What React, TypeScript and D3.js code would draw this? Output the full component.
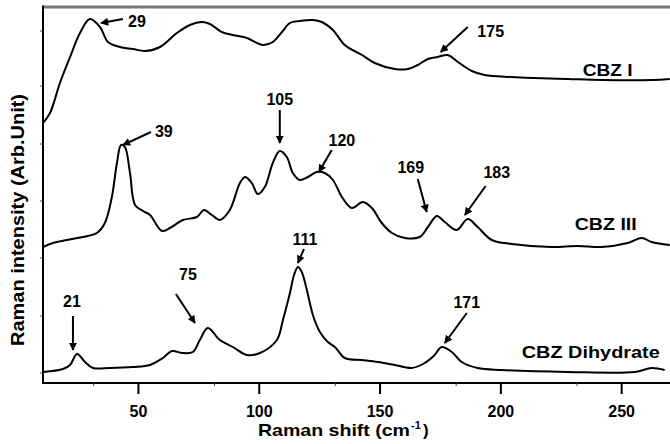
import React from "react";
import * as d3 from "d3";

// Raman shift (cm-1) and intensity (arb. units, offset stacked)
const cbz1X = [10.5,13.4,17.5,21.7,25.8,29.9,34.1,37.4,42.3,47.7,52.7,58.9,65.9,71.3,76.3,79.6,84.5,89.1,94.9,101.5,105.6,109.4,112.7,116.8,122.2,125.9,130.5,135.4,142.5,147.8,156.1,161.5,165.6,169.8,173.9,178.0,182.2,188.0,193.3,204.5,214.0,227.7,241.7,262.4,269.9];
const cbz1Y = [260,270,300,326,350,364,356,341,336,334,332,336,350,358,361,359,351,348,345,338,341,351,360,362,363,361,353,338,328,320,314,314,318,324,326,328,321,312,308,306,305,304,303,303,304];

const cbz3X = [10.5,14.6,20.4,27.0,32.8,36.1,39.0,41.1,42.8,44.4,46.5,48.6,51.9,54.8,59.7,63.0,68.4,74.2,77.1,80.4,83.7,87.8,92.0,94.1,96.9,99.4,102.3,105.6,108.5,111.4,113.9,116.8,120.1,123.8,127.1,130.5,134.2,138.3,142.9,146.6,150.7,154.9,160.2,166.4,169.8,173.5,176.8,181.7,186.3,190.4,196.2,204.5,221.0,231.8,241.7,252.5,258.3,262.4,269.9];
const cbz3Y = [136,140,143,146,150,160,186,220,238,236,210,178,172,168,152,155,163,166,173,168,163,173,200,206,200,189,196,220,232,226,210,203,206,211,210,203,186,175,181,175,160,150,145,146,156,167,161,153,164,156,143,139,136,137,136,140,145,141,138];

const dihX = [10.5,18.8,21.7,24.6,27.9,31.2,38.2,47.7,54.8,60.1,63.9,68.0,72.5,75.4,78.7,83.7,89.1,94.9,100.3,107.3,109.8,112.7,114.4,116.0,117.6,119.7,122.2,125.1,128.4,131.3,135.4,142.5,149.1,156.1,163.1,168.5,172.6,175.5,179.7,183.8,190.4,200.4,227.7,255.4,262.4,267.8];
const dihY = [11,14,18,29,21,15,15,16,18,25,32,30,31,43,55,43,36,28,30,43,63,90,108,116,111,93,68,51,41,36,25,23,21,18,15,20,28,36,31,21,15,13,11,11,15,13];

const seriesNames = ["CBZ I", "CBZ III", "CBZ Dihydrate"];
const seriesLabelX = [244.2, 243.4, 237.2];
const seriesLabelY = [313, 159, 31];
const seriesLabelLen = [50, 62, 138];

const xMajorTicks = [50, 100, 150, 200, 250];
const xMinorTicks = [31.5, 81.5, 131.5, 181.5, 231.5];
const yTicks = [10, 67, 125, 182, 239, 297, 352];

// peak annotations: label, label position, arrow from -> to (data coords)
const peakLabels = ["29", "175", "39", "105", "120", "169", "183", "111", "75", "21", "171"];
const peakTextX = [49.4, 195.8, 60.5, 108.5, 134.2, 162.7, 198.3, 118.9, 70.5, 22.5, 185.9];
const peakTextY = [362, 352, 252, 284, 243, 216, 211, 144, 109, 82, 81];
const arrowX1 = [43.6, 186.3, 55.2, 108.5, 130.0, 165.6, 193.7, 118.5, 65.5, 22.9, 185.9];
const arrowY1 = [364, 356, 251, 273, 233, 204, 197, 134, 89, 67, 70];
const arrowX2 = [34.5, 175.1, 43.6, 108.5, 124.7, 169.3, 185.1, 116.0, 73.4, 22.9, 176.8];
const arrowY2 = [360, 331, 238, 240, 211, 171, 168, 120, 60, 33, 40];

const W = 670, H = 444;
const left = 43, right = 670, top = 7, bottom = 383;
const FONT = "'Liberation Sans', Arial, sans-serif";

export default function App() {
  const x = d3.scaleLinear().domain([10.5, 270]).range([left, right]);
  const y = d3.scaleLinear().domain([0, 376]).range([bottom, top]);
  const line = d3
    .line<[number, number]>()
    .x((d) => x(d[0]))
    .y((d) => y(d[1]))
    .curve(d3.curveCatmullRom.alpha(0.5));
  const series = [
    d3.zip(cbz1X, cbz1Y) as [number, number][],
    d3.zip(cbz3X, cbz3Y) as [number, number][],
    d3.zip(dihX, dihY) as [number, number][],
  ];

  return (
    <svg
      width={W}
      height={H}
      style={{ position: "absolute", left: 0, top: 0, background: "#fff" }}
      fontFamily={FONT}
    >
      <defs>
        <marker id="ah" viewBox="0 0 10 10" refX="9" refY="5" markerWidth="4.2" markerHeight="4" orient="auto" markerUnits="strokeWidth">
          <path d="M0,0 L10,5 L0,10 z" fill="#000" />
        </marker>
        <clipPath id="clip">
          <rect x={left} y={top} width={right - left} height={bottom - top} />
        </clipPath>
      </defs>

      {/* frame */}
      <line x1={left} x2={right} y1={top} y2={top} stroke="#777" strokeWidth={3} />
      <line x1={left} x2={left} y1={top - 1.5} y2={bottom} stroke="#000" strokeWidth={2} />
      <line x1={left - 1} x2={right} y1={bottom} y2={bottom} stroke="#000" strokeWidth={2} />

      {yTicks.map((t) => (
        <line key={t} x1={left - 3} x2={left} y1={y(t)} y2={y(t)} stroke="#444" strokeWidth={1} />
      ))}
      {xMajorTicks.map((t) => (
        <g key={t}>
          <line x1={x(t)} x2={x(t)} y1={bottom} y2={bottom + 11} stroke="#000" strokeWidth={2} />
          <text x={x(t)} y={417} textAnchor="middle" fontSize={16} fontWeight="bold">
            {t}
          </text>
        </g>
      ))}
      {xMinorTicks.map((t) => (
        <line key={t} x1={x(t)} x2={x(t)} y1={bottom} y2={bottom + 3} stroke="#444" strokeWidth={1} />
      ))}

      <text x={258} y={436} fontSize={17} fontWeight="bold" textLength={152} lengthAdjust="spacingAndGlyphs">
        Raman shift (cm
      </text>
      <text x={411} y={429} fontSize={11} fontWeight="bold">-1</text>
      <text x={423} y={436} fontSize={17} fontWeight="bold">)</text>
      <text
        transform={`translate(24,${220}) rotate(-90)`}
        textAnchor="middle"
        fontSize={17.5}
        fontWeight="bold"
        textLength={252}
        lengthAdjust="spacingAndGlyphs"
      >
        Raman intensity (Arb.Unit)
      </text>

      <g clipPath="url(#clip)">
        {series.map((s, i) => (
          <path key={i} d={line(s) ?? ""} fill="none" stroke="#000" strokeWidth={2} strokeLinejoin="round" />
        ))}
      </g>

      {seriesNames.map((n, i) => (
        <text
          key={n}
          x={x(seriesLabelX[i]) - seriesLabelLen[i] / 2}
          y={y(seriesLabelY[i])}
          dominantBaseline="central"
          fontSize={17}
          fontWeight="bold"
          textLength={seriesLabelLen[i]}
          lengthAdjust="spacingAndGlyphs"
        >
          {n}
        </text>
      ))}

      {peakLabels.map((p, i) => (
        <g key={i}>
          <text
            x={x(peakTextX[i])}
            y={y(peakTextY[i])}
            textAnchor="middle"
            dominantBaseline="central"
            fontSize={16}
            fontWeight="bold"
          >
            {p}
          </text>
          <line
            x1={x(arrowX1[i])}
            y1={y(arrowY1[i])}
            x2={x(arrowX2[i])}
            y2={y(arrowY2[i])}
            stroke="#000"
            strokeWidth={2}
            markerEnd="url(#ah)"
          />
        </g>
      ))}
    </svg>
  );
}
